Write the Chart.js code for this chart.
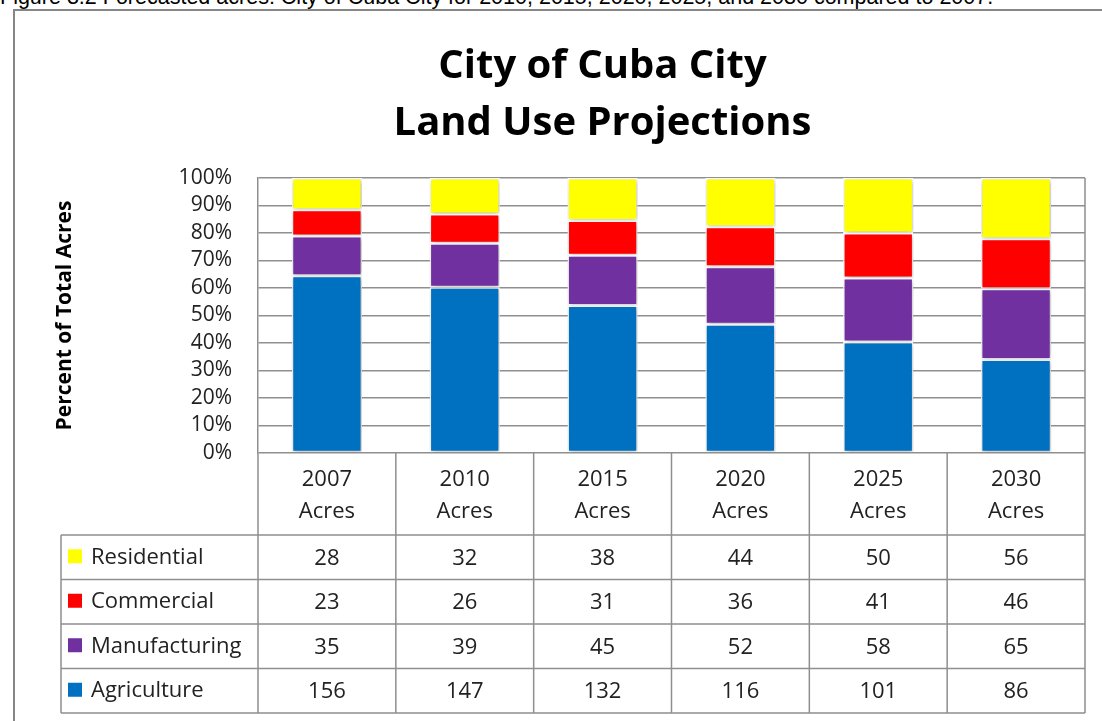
<!DOCTYPE html>
<html lang="en">
<head>
<meta charset="UTF-8">
<title>City of Cuba City Land Use Projections</title>
<script src="https://cdn.jsdelivr.net/npm/chart.js"></script>
<style>
  html, body { margin: 0; padding: 0; background: #fff; overflow: hidden; }
  #caption { position: absolute; left: 0; top: -13.5px; font: 21.5px/21.5px 'Liberation Sans', Arial, sans-serif; white-space: nowrap; color: #000; }
  #frame { position: absolute; left: 13px; top: 9px; width: 1200px; height: 800px; border-left: 2px solid #868686; border-top: 2px solid #868686; }
  #wrap { position: absolute; left: 0; top: 0; width: 1102px; height: 721px; }
</style>
</head>
<body>
<div id="caption">Figure 3.2 Forecasted acres: City of Cuba City for 2010, 2015, 2020, 2025, and 2030 compared to 2007.</div>
<div id="frame"></div>
<div id="wrap"><canvas id="myChart"></canvas></div>
<script>
// acres per land use
const years = ['2007', '2010', '2015', '2020', '2025', '2030'];
const residential = [28, 32, 38, 44, 50, 56];
const commercial = [23, 26, 31, 36, 41, 46];
const manufacturing = [35, 39, 45, 52, 58, 65];
const agriculture = [156, 147, 132, 116, 101, 86];
const yTickValues = [0, 10, 20, 30, 40, 50, 60, 70, 80, 90, 100];

const textColor = '#222';
const lineColor = '#8f8f8f';
const font = 'Open Sans';

// bars are percent of total acres for each year
const totals = years.map((y, i) => residential[i] + commercial[i] + manufacturing[i] + agriculture[i]);
const toPct = arr => arr.map((v, i) => v / totals[i] * 100);

const makeSet = (label, acres, color) => ({
    label: label,
    data: toPct(acres),
    acres: acres,
    backgroundColor: color,
    borderColor: '#ffffff',
    borderWidth: 1.5,
    borderSkipped: false
});

// soft shadow round the bars
const barShadow = {
    id: 'barShadow',
    beforeDatasetsDraw(chart) {
        const ctx = chart.ctx;
        ctx.save();
        ctx.shadowColor = 'rgba(0,0,0,0.3)';
        ctx.shadowBlur = 5;
        ctx.shadowOffsetX = 1;
        ctx.shadowOffsetY = 1;
    },
    afterDatasetsDraw(chart) {
        chart.ctx.restore();
    }
};

// data table under the plot
const dataTable = {
    id: 'dataTable',
    afterDraw(chart) {
        const ctx = chart.ctx;
        const a = chart.chartArea;
        const xs = chart.scales.x;
        const n = years.length;
        const colW = (a.right - a.left) / n;
        const headBottom = a.bottom + 82;
        const rowH = 44.5;
        const rows = chart.data.datasets.slice().reverse();
        const tableBottom = headBottom + rowH * rows.length;
        const legLeft = 61;

        ctx.save();
        ctx.strokeStyle = lineColor;
        ctx.lineWidth = 1.5;
        ctx.beginPath();
        for (let i = 0; i <= n; i++) {
            const x = a.left + i * colW;
            ctx.moveTo(x, a.bottom);
            ctx.lineTo(x, tableBottom);
        }
        ctx.moveTo(a.right, a.top);
        ctx.lineTo(a.right, a.bottom);
        for (let r = 0; r <= rows.length; r++) {
            const y = headBottom + r * rowH;
            ctx.moveTo(legLeft, y);
            ctx.lineTo(a.right, y);
        }
        ctx.moveTo(legLeft, headBottom);
        ctx.lineTo(legLeft, tableBottom);
        ctx.stroke();

        ctx.font = '22px "' + font + '"';
        ctx.textBaseline = 'middle';
        rows.forEach((ds, r) => {
            const yc = headBottom + r * rowH + rowH / 2;
            ctx.fillStyle = ds.backgroundColor;
            ctx.fillRect(68, yc - 8, 14, 14);
            ctx.fillStyle = textColor;
            ctx.textAlign = 'left';
            ctx.fillText(ds.label, 91, yc);
            ctx.textAlign = 'center';
            ds.acres.forEach((v, i) => ctx.fillText(String(v), xs.getPixelForValue(i), yc + 1));
        });
        ctx.restore();
    }
};

new Chart(document.getElementById('myChart'), {
    type: 'bar',
    data: {
        labels: years.map(y => [y, 'Acres']),
        datasets: [
            makeSet('Agriculture', agriculture, '#0070C0'),
            makeSet('Manufacturing', manufacturing, '#7030A0'),
            makeSet('Commercial', commercial, '#FF0000'),
            makeSet('Residential', residential, '#FFFF00')
        ]
    },
    options: {
        responsive: true,
        maintainAspectRatio: false,
        animation: false,
        barPercentage: 0.51,
        categoryPercentage: 1.0,
        layout: { padding: { left: 120, right: 17, top: 0, bottom: 0 } },
        plugins: {
            legend: { display: false },
            tooltip: { enabled: false },
            title: {
                display: true,
                text: ['City of Cuba City', 'Land Use Projections'],
                color: '#000',
                font: { family: font, weight: 'bold', size: 40, lineHeight: 57 / 40 },
                padding: { top: 38, bottom: 26 }
            }
        },
        scales: {
            x: {
                stacked: true,
                afterFit(scale) { scale.height = 268; },
                grid: { display: false, drawTicks: false },
                border: { display: false },
                ticks: {
                    color: textColor,
                    padding: 11,
                    font: { family: font, size: 22, lineHeight: 32 / 22 }
                }
            },
            y: {
                stacked: true,
                min: 0,
                max: 100,
                afterFit(scale) { scale.width = 138; },
                afterBuildTicks(scale) { scale.ticks = yTickValues.map(v => ({ value: v })); },
                grid: { color: lineColor, lineWidth: 1.5, drawTicks: false },
                border: { display: true, color: lineColor, width: 1.5 },
                ticks: {
                    color: textColor,
                    padding: 26,
                    autoSkip: false,
                    font: { family: font, size: 21 },
                    callback: v => v + '%'
                },
                title: {
                    display: true,
                    text: 'Percent of Total Acres',
                    color: '#000',
                    font: { family: font, weight: 'bold', size: 21 },
                    padding: { top: -67.6, bottom: 0 }
                }
            }
        }
    },
    plugins: [barShadow, dataTable]
});
</script>
</body>
</html>
